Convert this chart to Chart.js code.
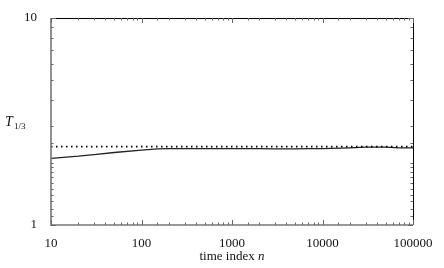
<!DOCTYPE html>
<html>
<head>
<meta charset="utf-8">
<script src="https://cdn.jsdelivr.net/npm/chart.js@4.4.1/dist/chart.umd.min.js"></script>
<style>
  html, body { margin: 0; padding: 0; background: #fff; }
  #wrap { width: 444px; height: 268px; }
</style>
</head>
<body>
<div id="wrap"><canvas id="myChart" width="444" height="268"></canvas></div>
<script>
const timeIndex = [10, 20, 30, 50, 100, 150, 200, 300, 500, 700, 1000, 2000, 3000, 5000, 7000, 10000, 20000, 30000, 50000, 70000, 100000];
const tValues = [2.1, 2.15, 2.19, 2.24, 2.3, 2.33, 2.34, 2.34, 2.34, 2.34, 2.34, 2.34, 2.33, 2.33, 2.34, 2.34, 2.36, 2.38, 2.38, 2.36, 2.36];
const refLevel = 2.39;
const xRange = [10, 100000];
const yRange = [1, 10];

const FONT = "'Liberation Serif', 'DejaVu Serif', serif";

// inward tick marks and axis labels drawn against the library scales
const frame = {
  id: "frame",
  afterDraw(chart) {
    const ctx = chart.ctx;
    const a = chart.chartArea;
    const xs = chart.scales.x, ys = chart.scales.y;
    ctx.save();
    // borders
    ctx.lineWidth = 1;
    ctx.strokeStyle = "#000";
    ctx.beginPath();
    ctx.moveTo(a.left, a.top + 0.5); ctx.lineTo(a.right + 0.5, a.top + 0.5);
    ctx.lineTo(a.right + 0.5, a.bottom);
    ctx.stroke();
    ctx.strokeStyle = "#777";
    ctx.lineWidth = 1.6;
    ctx.beginPath();
    ctx.moveTo(a.left, a.top); ctx.lineTo(a.left, a.bottom); ctx.lineTo(a.right, a.bottom);
    ctx.stroke();

    ctx.lineWidth = 1;
    ctx.strokeStyle = "#666";
    xs.ticks.forEach(t => {
      const px = Math.round(xs.getPixelForValue(t.value)) + 0.5;
      const major = Math.abs(Math.log10(t.value) % 1) < 1e-9;
      const len = major ? 5 : 2.5;
      ctx.beginPath(); ctx.moveTo(px, a.bottom); ctx.lineTo(px, a.bottom - len); ctx.stroke();
      ctx.beginPath(); ctx.moveTo(px, a.top); ctx.lineTo(px, a.top + len); ctx.stroke();
    });
    ys.ticks.forEach(t => {
      const py = Math.round(ys.getPixelForValue(t.value)) + 0.5;
      const major = Math.abs(Math.log10(t.value) % 1) < 1e-9;
      const len = major ? 5 : 2.5;
      ctx.beginPath(); ctx.moveTo(a.left, py); ctx.lineTo(a.left + len, py); ctx.stroke();
      ctx.beginPath(); ctx.moveTo(a.right, py); ctx.lineTo(a.right - len, py); ctx.stroke();
    });

    // y axis label T_{1/3}
    ctx.fillStyle = "#111";
    ctx.textBaseline = "alphabetic";
    ctx.textAlign = "left";
    ctx.font = "italic 14px " + FONT;
    ctx.fillText("T", 5, 126);
    ctx.font = "9px " + FONT;
    ctx.fillText("1/3", 14, 129);

    // x axis label
    ctx.font = "13px " + FONT;
    const s1 = "time index ";
    const w1 = ctx.measureText(s1).width;
    ctx.font = "italic 13px " + FONT;
    const w2 = ctx.measureText("n").width;
    const x0 = (a.left + a.right) / 2 - (w1 + w2) / 2;
    ctx.font = "13px " + FONT;
    ctx.fillText(s1, x0, 260);
    ctx.font = "italic 13px " + FONT;
    ctx.fillText("n", x0 + w1, 260);
    ctx.restore();
  }
};

const ctx = document.getElementById("myChart").getContext("2d");
new Chart(ctx, {
  type: "line",
  data: {
    datasets: [
      {
        label: "reference",
        data: xRange.map(x => ({ x, y: refLevel })),
        borderColor: "#000",
        borderWidth: 1.6,
        borderDash: [1.5, 3.5],
        pointRadius: 0,
        fill: false,
      },
      {
        label: "T",
        data: timeIndex.map((x, i) => ({ x, y: tValues[i] })),
        borderColor: "#222",
        borderWidth: 1.3,
        pointRadius: 0,
        tension: 0,
        fill: false,
      },
    ],
  },
  options: {
    responsive: false,
    animation: false,
    events: [],
    layout: { padding: { top: 18, right: 31, left: 0, bottom: 0 } },
    plugins: { legend: { display: false }, tooltip: { enabled: false } },
    scales: {
      x: {
        type: "logarithmic",
        min: xRange[0],
        max: xRange[1],
        grid: { display: false },
        border: { display: false },
        afterFit: s => { s.height = 43; },
        ticks: {
          autoSkip: false,
          maxRotation: 0,
          padding: 3,
          color: "#111",
          font: { family: FONT, size: 13 },
          callback: v => (Math.abs(Math.log10(v) % 1) < 1e-9 ? String(v) : ""),
        },
      },
      y: {
        type: "logarithmic",
        min: yRange[0],
        max: yRange[1],
        grid: { display: false },
        border: { display: false },
        afterFit: s => { s.width = 51; },
        ticks: {
          autoSkip: false,
          padding: 6,
          color: "#111",
          font: { family: FONT, size: 13 },
          callback: v => (Math.abs(Math.log10(v) % 1) < 1e-9 ? String(v) : ""),
        },
      },
    },
  },
  plugins: [frame],
});
</script>
</body>
</html>
